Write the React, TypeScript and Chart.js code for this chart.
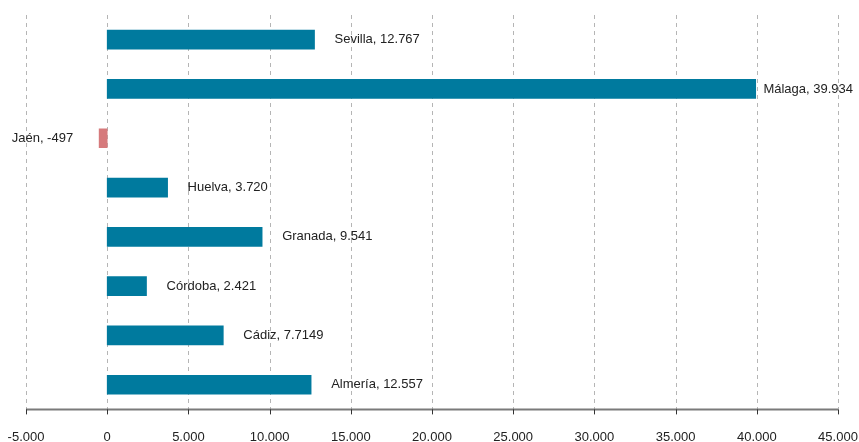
import React, { useEffect, useRef } from 'react';
import { Chart, registerables } from 'chart.js';

Chart.register(...registerables);

const categories = ['Sevilla', 'Málaga', 'Jaén', 'Huelva', 'Granada', 'Córdoba', 'Cádiz', 'Almería'];
const values = [12767, 39934, -497, 3720, 9541, 2421, 7149, 12557];
const valueLabels = ['12.767', '39.934', '-497', '3.720', '9.541', '2.421', '7.7149', '12.557'];
const xTickValues = [-5000, 0, 5000, 10000, 15000, 20000, 25000, 30000, 35000, 40000, 45000];
const xTickLabels = ['-5.000', '0', '5.000', '10.000', '15.000', '20.000', '25.000', '30.000', '35.000', '40.000', '45.000'];

const POS_COLOR = '#007a9e';
const NEG_COLOR = '#d67a7c';
const FONT = '"Liberation Sans", Arial, Helvetica, sans-serif';

const gridPlugin = {
  id: 'customGrid',
  beforeDatasetsDraw(chart: any) {
    const { ctx, chartArea } = chart;
    const xs = chart.scales.x;
    ctx.save();
    ctx.strokeStyle = '#b5b5b5';
    ctx.lineWidth = 1;
    ctx.setLineDash([4, 4]);
    xTickValues.forEach((v) => {
      const x = Math.round(xs.getPixelForValue(v)) + 0.5;
      ctx.beginPath();
      ctx.moveTo(x, chartArea.top);
      ctx.lineTo(x, chartArea.bottom);
      ctx.stroke();
    });
    ctx.restore();
  },
  afterDatasetsDraw(chart: any) {
    const { ctx, chartArea } = chart;
    const xs = chart.scales.x;
    ctx.save();
    ctx.strokeStyle = '#7a7a7a';
    ctx.lineWidth = 2;
    ctx.beginPath();
    ctx.moveTo(xs.getPixelForValue(xTickValues[0]), chartArea.bottom);
    ctx.lineTo(xs.getPixelForValue(xTickValues[xTickValues.length - 1]), chartArea.bottom);
    ctx.stroke();
    ctx.strokeStyle = '#333';
    ctx.lineWidth = 1;
    xTickValues.forEach((v) => {
      const x = Math.round(xs.getPixelForValue(v)) + 0.5;
      ctx.beginPath();
      ctx.moveTo(x, chartArea.bottom);
      ctx.lineTo(x, chartArea.bottom + 5);
      ctx.stroke();
    });
    ctx.font = `13px ${FONT}`;
    ctx.fillStyle = '#222';
    ctx.textBaseline = 'middle';
    const meta = chart.getDatasetMeta(0);
    meta.data.forEach((bar: any, i: number) => {
      const text = `${categories[i]}, ${valueLabels[i]}`;
      const w = ctx.measureText(text).width;
      if (values[i] >= 0) {
        let x = bar.x + 20;
        if (x + w > chart.width - 6) x = chart.width - 6 - w;
        ctx.textAlign = 'left';
        ctx.fillText(text, x, bar.y);
      } else {
        ctx.textAlign = 'right';
        ctx.fillText(text, bar.x - 26, bar.y);
      }
    });
    ctx.restore();
  },
};

export default function App() {
  const ref = useRef<HTMLCanvasElement | null>(null);

  useEffect(() => {
    if (!ref.current) return;
    const chart = new Chart(ref.current, {
      type: 'bar',
      data: {
        labels: categories,
        datasets: [
          {
            data: values,
            backgroundColor: values.map((v) => (v < 0 ? NEG_COLOR : POS_COLOR)),
            borderWidth: 0,
            barThickness: 19,
          },
        ],
      },
      options: {
        indexAxis: 'y',
        responsive: false,
        animation: false,
        layout: { padding: { left: 26, right: 21, top: 15, bottom: -23 } },
        plugins: {
          legend: { display: false },
          tooltip: { enabled: false },
        },
        scales: {
          x: {
            type: 'linear',
            min: -5000,
            max: 45000,
            afterBuildTicks: (scale: any) => {
              scale.ticks = xTickValues.map((v) => ({ value: v }));
            },
            afterFit: (scale: any) => {
              scale.paddingLeft = 0;
              scale.paddingRight = 0;
            },
            grid: { display: false, drawTicks: false, tickLength: 0 },
            border: { display: false },
            ticks: {
              padding: 20,
              color: '#222',
              font: { family: FONT, size: 13, lineHeight: 1.2 },
              maxRotation: 0,
              autoSkip: false,
              callback: (v: any) => {
                const idx = xTickValues.indexOf(Number(v));
                return idx >= 0 ? xTickLabels[idx] : '';
              },
            },
          },
          y: {
            display: false,
            offset: true,
            grid: { display: false },
          },
        },
      },
      plugins: [gridPlugin],
    });
    return () => chart.destroy();
  }, []);

  return (
    <div style={{ position: 'absolute', left: 0, top: 0, width: 859, height: 442, background: '#fff' }}>
      <canvas ref={ref} width={859} height={442} style={{ display: 'block' }} />
    </div>
  );
}
